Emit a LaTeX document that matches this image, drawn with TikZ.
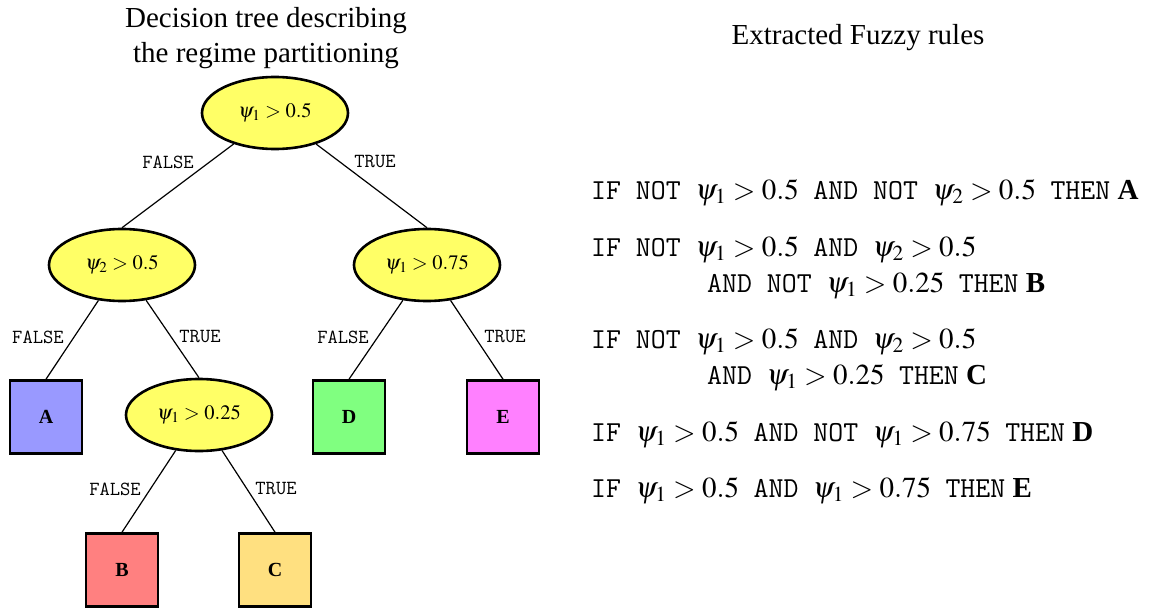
\documentclass[tikz,border=0pt]{standalone}
\usepackage{mathptmx}
\usepackage{fontspec}
\setmainfont{Liberation Serif}
\usetikzlibrary{shapes.geometric}
\definecolor{testfill}{RGB}{255,255,102}
\definecolor{regA}{RGB}{153,153,255}
\definecolor{regB}{RGB}{255,128,128}
\definecolor{regC}{RGB}{255,224,128}
\definecolor{regD}{RGB}{128,255,128}
\definecolor{regE}{RGB}{255,128,255}
\newcommand{\sz}[1]{\fontsize{#1}{1.2\dimexpr#1pt\relax}\selectfont}
\begin{document}
\begin{tikzpicture}[x=1pt,y=-1pt,
  test/.style={ellipse,draw=black,line width=2.6pt,fill=testfill,
    minimum width=146pt,minimum height=72pt,inner sep=0pt,font=\sz{20.5}},
  leaf/.style={rectangle,draw=black,line width=2.6pt,minimum width=72pt,
    minimum height=73pt,inner sep=0pt,font=\sz{20}\bfseries},
  branch/.style={line width=1.2pt},
  blabel/.style={font=\sz{20}\ttfamily,inner sep=0pt},
  rule/.style={anchor=base west,inner sep=0pt,font=\sz{29}}]
\useasboundingbox (0,0) rectangle (1156,610);

% headings
\node[align=center,font=\sz{29},inner sep=0pt] (ttree) at (266,38)
  {Decision tree describing\\the regime partitioning};
\node[font=\sz{29},inner sep=0pt] (trules) at (858,38) {Extracted Fuzzy rules};

% decision tree
\node[test] (root) at (275,113) {$\psi_1>0.5$};
\node[test] (n2) at (122,265) {$\psi_2>0.5$};
\node[test] (n3) at (427,265) {$\psi_1>0.75$};
\node[test] (n4) at (199,415) {$\psi_1>0.25$};
\node[leaf,fill=regA] (A) at (46,417) {A};
\node[leaf,fill=regD] (D) at (349,417) {D};
\node[leaf,fill=regE] (E) at (503,417) {E};
\node[leaf,fill=regB] (B) at (122,570) {B};
\node[leaf,fill=regC] (C) at (275,570) {C};

% branches run from the parent towards the top of the child
\draw[branch] (root) -- (n2.north);
\draw[branch] (root) -- (n3.north);
\draw[branch] (n2) -- (A.north);
\draw[branch] (n2) -- (n4.north);
\draw[branch] (n3) -- (D.north);
\draw[branch] (n3) -- (E.north);
\draw[branch] (n4) -- (B.north);
\draw[branch] (n4) -- (C.north);

\node[blabel] (l1) at (168,162) {FALSE};
\node[blabel] (l2) at (375,162) {TRUE};
\node[blabel] (l3) at (38,337) {FALSE};
\node[blabel] (l4) at (200,337) {TRUE};
\node[blabel] (l5) at (343,337) {FALSE};
\node[blabel] (l6) at (505,337) {TRUE};
\node[blabel] (l7) at (115,489) {FALSE};
\node[blabel] (l8) at (276,489) {TRUE};

% extracted rules
\node[rule] (r1) at (591,199) {\texttt{IF NOT}\ \ $\psi_1>0.5$\ \ \texttt{AND NOT}\ \ $\psi_2>0.5$\ \ \texttt{THEN} \textbf{A}};
\node[rule] (r2a) at (591,256) {\texttt{IF NOT}\ \ $\psi_1>0.5$\ \ \texttt{AND}\ \ $\psi_2>0.5$};
\node[rule] (r2b) at (707,292) {\texttt{AND NOT}\ \ $\psi_1>0.25$\ \ \texttt{THEN} \textbf{B}};
\node[rule] (r3a) at (591,348) {\texttt{IF NOT}\ \ $\psi_1>0.5$\ \ \texttt{AND}\ \ $\psi_2>0.5$};
\node[rule] (r3b) at (707,384) {\texttt{AND}\ \ $\psi_1>0.25$\ \ \texttt{THEN} \textbf{C}};
\node[rule] (r4) at (591,441) {\texttt{IF}\ \ $\psi_1>0.5$\ \ \texttt{AND NOT}\ \ $\psi_1>0.75$\ \ \texttt{THEN} \textbf{D}};
\node[rule] (r5) at (591,497) {\texttt{IF}\ \ $\psi_1>0.5$\ \ \texttt{AND}\ \ $\psi_1>0.75$\ \ \texttt{THEN} \textbf{E}};
\end{tikzpicture}
\end{document}
